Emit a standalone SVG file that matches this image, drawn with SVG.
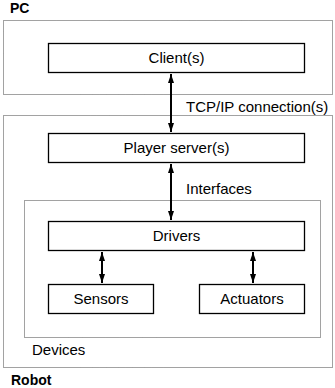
<svg xmlns="http://www.w3.org/2000/svg" width="335" height="388" viewBox="0 0 335 388">
<style>
.grp{fill:none;stroke:#444;stroke-width:1;stroke-dasharray:1,1}
.box{fill:#fff;stroke:#000;stroke-width:1.3}
.t{font-family:"Liberation Sans",Arial,sans-serif;font-size:15px;fill:#000}
.b{font-family:"Liberation Sans",Arial,sans-serif;font-size:14px;font-weight:bold;fill:#000}
.c{text-anchor:middle}
.ln{stroke:#000;stroke-width:2;fill:none}
</style>
<defs>
<marker id="ah" viewBox="0 0 9 6" refX="9" refY="3" markerWidth="9" markerHeight="6" orient="auto-start-reverse" markerUnits="userSpaceOnUse">
<path d="M0,0 L9,3 L0,6 z" fill="#000"/>
</marker>
</defs>
<g id="pc">
<rect class="grp" x="3.5" y="20.5" width="329" height="74"/>
<text class="b" x="10" y="13">PC</text>
</g>
<g id="robot">
<rect class="grp" x="3.5" y="115.5" width="329" height="252"/>
<text class="b" x="11" y="385">Robot</text>
</g>
<g id="devices">
<rect class="grp" x="24.5" y="200.5" width="296" height="137"/>
<text class="t" x="32" y="355">Devices</text>
</g>
<g id="client">
<rect class="box" x="48.5" y="43.5" width="256" height="29"/>
<text class="t c" x="176.5" y="63">Client(s)</text>
</g>
<g id="player">
<rect class="box" x="48.5" y="133.5" width="256" height="29"/>
<text class="t c" x="176.5" y="153">Player server(s)</text>
</g>
<g id="drivers">
<rect class="box" x="48.5" y="221.5" width="256" height="29"/>
<text class="t c" x="176.5" y="241">Drivers</text>
</g>
<g id="sensors">
<rect class="box" x="48.5" y="284.5" width="105" height="29"/>
<text class="t c" x="101" y="304">Sensors</text>
</g>
<g id="actuators">
<rect class="box" x="199.5" y="284.5" width="105" height="29"/>
<text class="t c" x="252" y="304">Actuators</text>
</g>
<g id="connectors">
<line class="ln" x1="171" y1="74" x2="171" y2="132" marker-start="url(#ah)" marker-end="url(#ah)"/>
<line class="ln" x1="171" y1="164" x2="171" y2="220" marker-start="url(#ah)" marker-end="url(#ah)"/>
<line class="ln" x1="102" y1="252" x2="102" y2="283" marker-start="url(#ah)" marker-end="url(#ah)"/>
<line class="ln" x1="253" y1="252" x2="253" y2="283" marker-start="url(#ah)" marker-end="url(#ah)"/>
<text class="t" x="186" y="112">TCP/IP connection(s)</text>
<text class="t" x="186" y="194">Interfaces</text>
</g>
</svg>
